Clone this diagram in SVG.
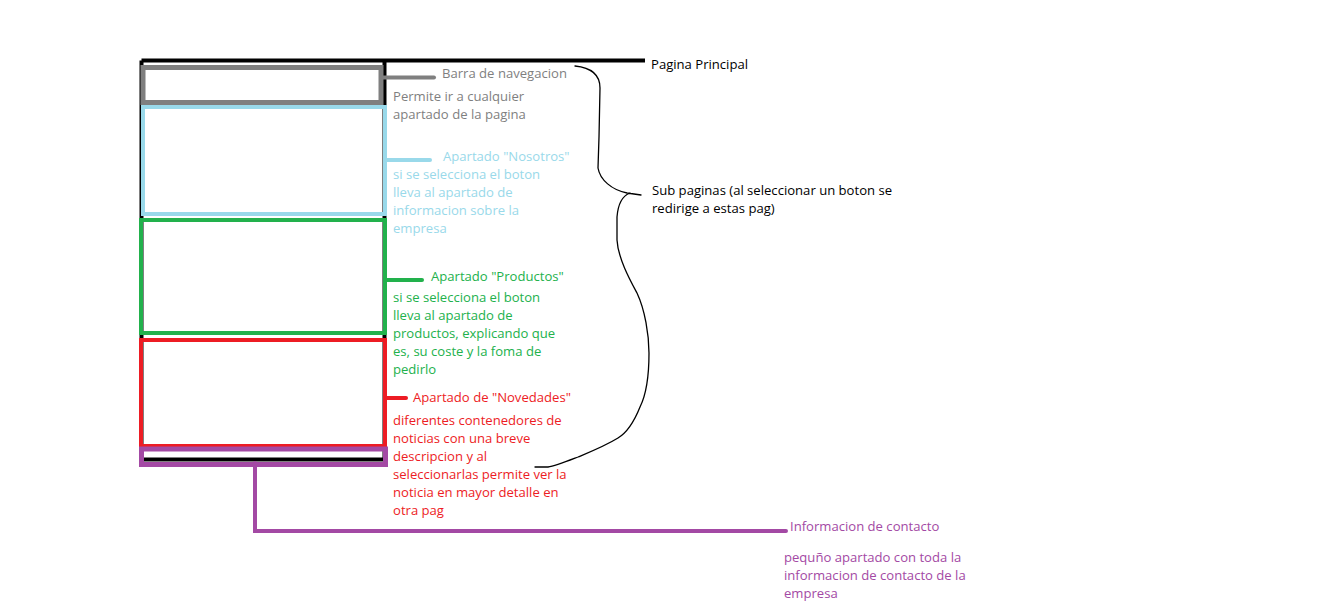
<svg xmlns="http://www.w3.org/2000/svg" width="1343" height="611" viewBox="0 0 1343 611">
<style>
text{font-family:"Open Sans","Noto Sans","DejaVu Sans",sans-serif;font-size:13.1px}
.k{fill:#000}.g{fill:#7f7f7f}.b{fill:#99d9ea}.gr{fill:#22b14c}.r{fill:#ed1c24}.p{fill:#a349a4}
.box{fill:none}
</style>
<rect width="1343" height="611" fill="#fff"/>
<g id="pagina-principal">
<path d="M141.5 60.5 H645 M141.5 60.5 V461 M384.5 60.5 V461 M141.5 459.5 H384.5" stroke="#000" stroke-width="4" fill="none"/>
<text class="k" x="651" y="69">Pagina Principal</text>
</g>
<g id="barra-navegacion">
<rect class="box" x="143" y="67.5" width="238" height="35" stroke="#7f7f7f" stroke-width="5"/>
<text class="g" x="442" y="78">Barra de navegacion</text>
<text class="g" x="393" y="101">Permite ir a cualquier</text>
<text class="g" x="393" y="119">apartado de la pagina</text>
</g>
<g id="nosotros">
<rect class="box" x="143" y="107" width="242" height="107" stroke="#99d9ea" stroke-width="4"/>
<text class="b" x="443" y="161">Apartado "Nosotros"</text>
<text class="b" x="393" y="179">si se selecciona el boton</text>
<text class="b" x="393" y="197">lleva al apartado de</text>
<text class="b" x="393" y="215">informacion sobre la</text>
<text class="b" x="393" y="233">empresa</text>
</g>
<g id="productos">
<rect class="box" x="141" y="220" width="244" height="113" stroke="#22b14c" stroke-width="4"/>
<text class="gr" x="431" y="281">Apartado "Productos"</text>
<text class="gr" x="393" y="302">si se selecciona el boton</text>
<text class="gr" x="393" y="320">lleva al apartado de</text>
<text class="gr" x="393" y="338">productos, explicando que</text>
<text class="gr" x="393" y="356">es, su coste y la foma de</text>
<text class="gr" x="393" y="374">pedirlo</text>
</g>
<g id="novedades">
<rect class="box" x="141" y="340" width="244" height="106" stroke="#ed1c24" stroke-width="4"/>
<text class="r" x="413" y="402">Apartado de "Novedades"</text>
<text class="r" x="393" y="425">diferentes contenedores de</text>
<text class="r" x="393" y="443">noticias con una breve</text>
<text class="r" x="393" y="461">descripcion y al</text>
<text class="r" x="393" y="479">seleccionarlas permite ver la</text>
<text class="r" x="393" y="497">noticia en mayor detalle en</text>
<text class="r" x="393" y="515">otra pag</text>
</g>
<g id="contacto">
<rect class="box" x="141.5" y="449" width="244" height="15.5" stroke="#a349a4" stroke-width="5"/>
<text class="p" x="790" y="531">Informacion de contacto</text>
<text class="p" x="784" y="562">pequño apartado con toda la</text>
<text class="p" x="784" y="580">informacion de contacto de la</text>
<text class="p" x="784" y="598">empresa</text>
</g>
<g id="subpaginas">
<text class="k" x="652" y="195">Sub paginas (al seleccionar un boton se</text>
<text class="k" x="652" y="213">redirige a estas pag)</text>
</g>
<g id="connectors" fill="none" stroke-linecap="round">
<path d="M383 77.5 H434" stroke="#7f7f7f" stroke-width="4"/>
<path d="M386 160 H430" stroke="#99d9ea" stroke-width="4"/>
<path d="M386 280 H422" stroke="#22b14c" stroke-width="4"/>
<path d="M386 398 H406" stroke="#ed1c24" stroke-width="4"/>
<path d="M255 463 V531 H786" stroke="#a349a4" stroke-width="4"/>
<path d="M575 66 C595 68 600 78 600 88 L599 137 L598 168 C600 180 612 190 627 193 L641 195 M630 193 C622 196 618 204 617 217 L617 240 C618 258 630 280 637 293 C645 310 649 335 649 353 C649 375 646 395 640 407 C634 422 628 432 618 438 C605 446 590 452 578 457 C565 462 555 466 548 467 L535 467" stroke="#000" stroke-width="1.3"/>
</g>
</svg>
